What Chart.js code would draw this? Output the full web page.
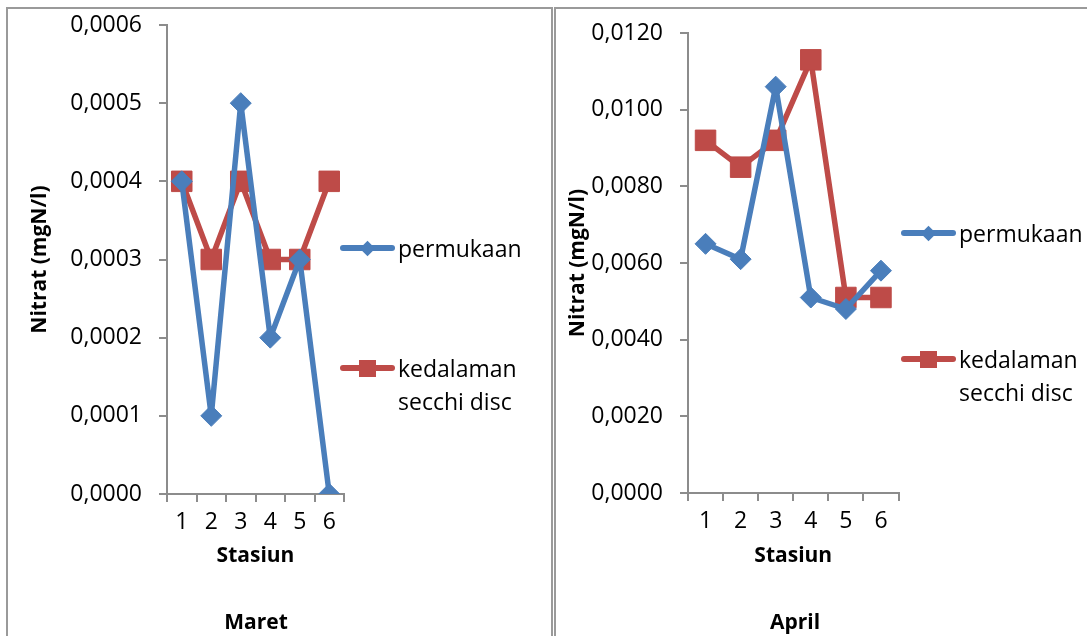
<!DOCTYPE html>
<html>
<head>
<meta charset="utf-8">
<script src="https://cdn.jsdelivr.net/npm/chart.js@4"></script>
<style>
  body { margin: 0; background: #fff; width: 1087px; height: 636px; overflow: hidden; position: relative; font-family: "Open Sans", sans-serif; }
  .panel { position: absolute; top: 7px; height: 700px; border: 2px solid #9a9a9a; box-sizing: border-box; }
  canvas { position: absolute; top: 9px; }
  .bulan { position: absolute; top: 604px; width: 120px; margin-left: -60px; text-align: center; font-weight: bold; font-size: 21px; line-height: 34px; }
  .leg { position: absolute; font-size: 23px; line-height: 33px; color: #000; white-space: nowrap; }
  .garis { position: absolute; height: 6px; border-radius: 3px; }
  .tanda { position: absolute; }
</style>
</head>
<body>
<div class="panel" style="left:6px; width:547px;"></div>
<div class="panel" style="left:554px; width:560px;"></div>
<canvas id="grafikMaret" width="543" height="627" style="left:8px"></canvas>
<canvas id="grafikApril" width="531" height="627" style="left:556px"></canvas>
<div class="bulan" style="left:256px">Maret</div>
<div class="bulan" style="left:795px">April</div>
<div id="legendaMaret"></div>
<div id="legendaApril"></div>

<script>
// data
const stasiun = ["1", "2", "3", "4", "5", "6"];
const namaSeri = ["permukaan", "kedalaman secchi disc"];

const maretPermukaan = [0.0004, 0.0001, 0.0005, 0.0002, 0.0003, 0.0000];
const maretSecchi = [0.0004, 0.0003, 0.0004, 0.0003, 0.0003, 0.0004];
const maretTicks = [0, 0.0001, 0.0002, 0.0003, 0.0004, 0.0005, 0.0006];

const aprilPermukaan = [0.0065, 0.0061, 0.0106, 0.0051, 0.0048, 0.0058];
const aprilSecchi = [0.0092, 0.0085, 0.0092, 0.0113, 0.0051, 0.0051];
const aprilTicks = [0, 0.002, 0.004, 0.006, 0.008, 0.010, 0.012];

const BIRU = "#4A7EBB";
const MERAH = "#BE4B48";
const ABU = "#8c8c8c";

function buatGrafico(id, permukaan, secchi, ticks, area, judulX) {
  const canvas = document.getElementById(id);
  const tinggiSumbuX = 559.6 - area.bottom;
  return new Chart(canvas, {
    type: "line",
    data: {
      labels: stasiun,
      datasets: [
        { label: namaSeri[0], data: permukaan, borderColor: BIRU, backgroundColor: BIRU, borderWidth: 5.5,
          borderJoinStyle: "round", borderCapStyle: "round",
          pointStyle: "rectRot", pointRadius: 10.5, pointHoverRadius: 10.5, pointBorderWidth: 1, tension: 0 },
        { label: namaSeri[1], data: secchi, borderColor: MERAH, backgroundColor: MERAH, borderWidth: 5.5,
          borderJoinStyle: "round", borderCapStyle: "round",
          pointStyle: "rect", pointRadius: 14.5, pointHoverRadius: 14.5, pointBorderWidth: 1, tension: 0 }
      ]
    },
    options: {
      responsive: false,
      animation: false,
      layout: { padding: { left: 0, top: area.top, right: canvas.width - area.right, bottom: canvas.height - 559.6 } },
      plugins: { legend: { display: false }, tooltip: { enabled: false } },
      scales: {
        x: {
          offset: true,
          grid: { offset: true, drawOnChartArea: false, drawTicks: true, tickLength: 8, color: ABU, lineWidth: 2 },
          border: { color: ABU, width: 2 },
          ticks: { color: "#000", padding: 7, font: { family: "Open Sans", size: 23 } },
          title: { display: true, text: "Stasiun", color: "#000", padding: 0, font: { family: "Open Sans", size: 21, weight: "bold" } },
          afterFit: s => { s.height = tinggiSumbuX; s.paddingLeft = 0; s.paddingRight = 0; }
        },
        y: {
          min: ticks[0],
          max: ticks[ticks.length - 1],
          afterBuildTicks: s => { s.ticks = ticks.map(v => ({ value: v })); },
          grid: { drawOnChartArea: false, drawTicks: true, tickLength: 8, color: ABU, lineWidth: 2 },
          border: { color: ABU, width: 2 },
          ticks: { color: "#000", padding: 17, font: { family: "Open Sans", size: 23 },
                   callback: v => v.toFixed(4).replace(".", ",") },
          title: { display: true, text: "Nitrat (mgN/l)", color: "#000", padding: { top: judulX, bottom: 0 },
                   font: { family: "Open Sans", size: 21, weight: "bold" } },
          // label sumbu y tidak boleh menggeser area grafik
          afterFit: s => { s.width = area.left; s.paddingTop = 0; s.paddingBottom = 0; }
        }
      }
    }
  });
}

// legenda di luar kanvas, seperti di Excel
function buatLegenda(id, x, yPermukaan, ySecchi) {
  const el = document.getElementById(id);
  const item = (y, warna, tanda, teks) => `
    <div class="garis" style="left:${x}px; top:${y - 3}px; width:55px; background:${warna}"></div>
    ${tanda}
    <div class="leg" style="left:${x + 58}px; top:${y - 16.5}px">${teks}</div>`;
  const belah = `<div class="tanda" style="left:${x + 27.5 - 5.5}px; top:${yPermukaan - 5.5}px; width:11px; height:11px; background:${BIRU}; transform:rotate(45deg)"></div>`;
  const kotak = `<div class="tanda" style="left:${x + 27.5 - 8.5}px; top:${ySecchi - 8.5}px; width:17px; height:17px; background:${MERAH}"></div>`;
  const [a, b] = namaSeri[1].split(" secchi");
  el.innerHTML = item(yPermukaan, BIRU, belah, namaSeri[0]) + item(ySecchi, MERAH, kotak, `${a}<br>secchi${b}`);
}

buatGrafico("grafikMaret", maretPermukaan, maretSecchi, maretTicks, { left: 159, right: 336, top: 16, bottom: 485 }, 19);
buatGrafico("grafikApril", aprilPermukaan, aprilSecchi, aprilTicks, { left: 132, right: 342.5, top: 24, bottom: 484 }, 9);
buatLegenda("legendaMaret", 340, 248, 368);
buatLegenda("legendaApril", 901, 233, 359);
</script>
</body>
</html>
